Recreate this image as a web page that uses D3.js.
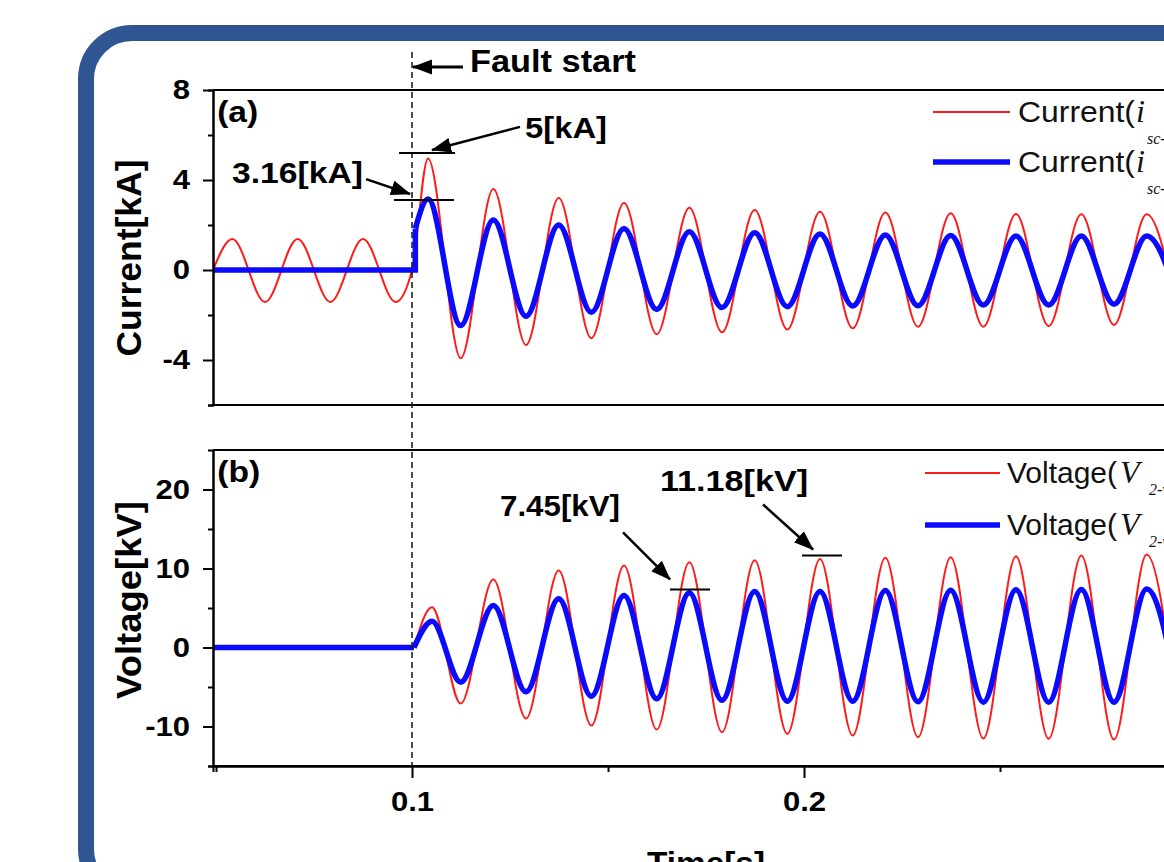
<!DOCTYPE html>
<html><head><meta charset="utf-8">
<script src="https://cdn.jsdelivr.net/npm/d3@7"></script>
<style>html,body{margin:0;padding:0;background:#fff;overflow:hidden}</style>
</head><body><svg id="c" width="1164" height="862"></svg>
<script>
// ---------------- DATA ----------------
const faultTime = 0.1;
// pre-fault extrema of the red current (no SFCL)
const preTimes = [0.04923, 0.05417, 0.0625, 0.07083, 0.07917, 0.0875, 0.09583, 0.1];
const iRedPre  = [0, 1.38, -1.42, 1.38, -1.42, 1.38, -1.42, 0];
// blue current: zero before the fault, then a step
const iBlueStepTime = 0.10085;
const iBlueStepValue = 1.85;
// post-fault extrema times (60 Hz)
const postTimes = [0.10408, 0.11242, 0.12075, 0.12908, 0.13742, 0.14575, 0.15408, 0.16242, 0.17075, 0.17908, 0.18742, 0.19575, 0.20408, 0.21242, 0.22075, 0.22908, 0.23742, 0.24575, 0.25408, 0.26242, 0.27075, 0.27908, 0.28742, 0.29575];
const iRedPost  = [4.96, -3.92, 3.6, -3.33, 3.2, -3.03, 2.98, -2.85, 2.77, -2.77, 2.67, -2.64, 2.59, -2.59, 2.55, -2.52, 2.52, -2.52, 2.49, -2.49, 2.48, -2.44, 2.48, -2.44];
const iBluePost = [3.16, -2.47, 2.22, -2.05, 2.0, -1.88, 1.85, -1.75, 1.70, -1.67, 1.66, -1.63, 1.60, -1.60, 1.56, -1.59, 1.53, -1.56, 1.51, -1.56, 1.51, -1.52, 1.51, -1.52];
// voltage
const vStartTime = 0.1005;
const vTimes    = [0.1051, 0.11242, 0.12075, 0.12908, 0.13742, 0.14575, 0.15408, 0.16242, 0.17075, 0.17908, 0.18742, 0.19575, 0.20408, 0.21242, 0.22075, 0.22908, 0.23742, 0.24575, 0.25408, 0.26242, 0.27075, 0.27908, 0.28742, 0.29575];
const vRedPost  = [5.1, -7.09, 8.6, -8.99, 9.75, -9.87, 10.38, -10.38, 10.8, -10.72, 11.05, -10.93, 11.2, -11.14, 11.35, -11.35, 11.43, -11.52, 11.56, -11.56, 11.65, -11.65, 11.77, -11.7];
const vBluePost = [3.33, -4.39, 5.32, -5.61, 6.16, -6.16, 6.58, -6.5, 6.92, -6.67, 7.1, -6.8, 7.1, -6.8, 7.2, -6.87, 7.25, -6.92, 7.3, -6.92, 7.34, -6.92, 7.4, -6.95];
// ticks
const xTicksMajor = [0.1, 0.2];
const xTickLabels = ["0.1", "0.2"];
const xTicksMinor = [0.05, 0.15, 0.25];
const iTicksMajor = [-4, 0, 4, 8];
const iTickLabels = ["-4", "0", "4", "8"];
const iTicksMinor = [-6, -2, 2, 6];
const vTicksMajor = [-10, 0, 10, 20];
const vTickLabels = ["-10", "0", "10", "20"];
const vTicksMinor = [-15, -5, 5, 15];
// annotations
const annLabels = ["5[kA]", "3.16[kA]", "7.45[kV]", "11.18[kV]"];
const annLevels = [5.2, 3.11, 7.34, 11.65];
const annPanels = ["a", "a", "b", "b"];
const legendCurrent = [["Current(", "i", "sc-without SFCL)"], ["Current(", "i", "sc-with SFCL)"]];
const legendVoltage = [["Voltage(", "V", "2-without SFCL)"], ["Voltage(", "V", "2-with SFCL)"]];

// ---------------- LAYOUT ----------------
const W = 1164, H = 862;
const L = 213, R = 1196;
const topA = 90, botA = 405, topB = 450, botB = 766;
const RED = "#ff1a1a", BLUE = "#0a0aff";
const SANS = "'Liberation Sans', Arial, sans-serif";
const SERIF = "'Liberation Serif', 'Times New Roman', serif";

const svg = d3.select("#c");
svg.append("rect").attr("width", W).attr("height", H).attr("fill", "#fff");

// rounded border
svg.append("rect").attr("x", 86).attr("y", 33).attr("width", 1200).attr("height", 862)
  .attr("rx", 46).attr("fill", "none").attr("stroke", "#2f5592").attr("stroke-width", 16);

const x = d3.scaleLinear().domain([0.04923, 0.3]).range([L, R]);
const yI = d3.scaleLinear().domain([-6, 8]).range([botA, topA]);
const yV = d3.scaleLinear().domain([-15, 25]).range([botB, topB]);

const defs = svg.append("defs");
defs.append("clipPath").attr("id", "clipA").append("rect")
  .attr("x", L).attr("y", topA).attr("width", R - L).attr("height", botA - topA);
defs.append("clipPath").attr("id", "clipB").append("rect")
  .attr("x", L).attr("y", topB).attr("width", R - L).attr("height", botB - topB);
defs.append("marker").attr("id", "arr").attr("markerUnits", "userSpaceOnUse")
  .attr("viewBox", "0 -9 20 18").attr("refX", 19).attr("refY", 0)
  .attr("markerWidth", 20).attr("markerHeight", 18).attr("orient", "auto")
  .append("path").attr("d", "M0,-7.5L20,0L0,7.5Z").attr("fill", "#000");

function pts(ts, vs) { return ts.map((t, i) => [t, vs[i]]); }

// ---- panel (a) curves
const lineA = d3.line().x(d => x(d[0])).y(d => yI(d[1])).curve(d3.curveMonotoneX);
const lineALin = d3.line().x(d => x(d[0])).y(d => yI(d[1]));
const gA = svg.append("g").attr("clip-path", "url(#clipA)");
gA.append("path").attr("d", lineA(pts(preTimes, iRedPre).concat(pts(postTimes, iRedPost))))
  .attr("fill", "none").attr("stroke", RED).attr("stroke-width", 2);
gA.append("path").attr("d", lineALin([[0.04923, 0], [iBlueStepTime, 0], [iBlueStepTime, iBlueStepValue]]))
  .attr("fill", "none").attr("stroke", BLUE).attr("stroke-width", 5.5);
gA.append("path").attr("d", lineA([[iBlueStepTime, iBlueStepValue]].concat(pts(postTimes, iBluePost))))
  .attr("fill", "none").attr("stroke", BLUE).attr("stroke-width", 5.5);

// ---- panel (b) curves
const lineB = d3.line().x(d => x(d[0])).y(d => yV(d[1])).curve(d3.curveMonotoneX);
const lineBLin = d3.line().x(d => x(d[0])).y(d => yV(d[1]));
const gB = svg.append("g").attr("clip-path", "url(#clipB)");
gB.append("path").attr("d", lineB([[vStartTime, 0]].concat(pts(vTimes, vRedPost))))
  .attr("fill", "none").attr("stroke", RED).attr("stroke-width", 2);
gB.append("path").attr("d", lineBLin([[0.04923, 0], [vStartTime, 0]]))
  .attr("fill", "none").attr("stroke", RED).attr("stroke-width", 2);
gB.append("path").attr("d", lineBLin([[0.04923, 0], [vStartTime, 0]]))
  .attr("fill", "none").attr("stroke", BLUE).attr("stroke-width", 5.5);
gB.append("path").attr("d", lineB([[vStartTime, 0]].concat(pts(vTimes, vBluePost))))
  .attr("fill", "none").attr("stroke", BLUE).attr("stroke-width", 5.5);

// ---- frames
function hline(y, x0, x1) {
  svg.append("line").attr("x1", x0).attr("x2", x1).attr("y1", y).attr("y2", y)
    .attr("stroke", "#000").attr("stroke-width", 2);
}
hline(topA, L, W + 5);
hline(botA, L, W + 5);
hline(topB, L, W + 5);

function styleAxis(g) {
  g.selectAll("path.domain").attr("stroke", "#000").attr("stroke-width", 2);
  g.selectAll(".tick line").attr("stroke", "#000").attr("stroke-width", 2);
  g.selectAll(".tick text").attr("font-family", SANS).attr("font-weight", "bold")
    .attr("font-size", 27).attr("fill", "#000")
    .each(function () {
      const w = this.getComputedTextLength();
      d3.select(this).attr("textLength", w * 1.15).attr("lengthAdjust", "spacingAndGlyphs");
    });
}

// y axis (a)
const axA = svg.append("g").attr("transform", `translate(${L},0)`)
  .call(d3.axisLeft(yI).tickValues(iTicksMajor).tickSizeInner(10).tickSizeOuter(0).tickPadding(13)
    .tickFormat((d, i) => iTickLabels[i]));
styleAxis(axA);
const axAm = svg.append("g").attr("transform", `translate(${L},0)`)
  .call(d3.axisLeft(yI).tickValues(iTicksMinor).tickSize(5).tickFormat(""));
styleAxis(axAm);
// y axis (b)
const axB = svg.append("g").attr("transform", `translate(${L},0)`)
  .call(d3.axisLeft(yV).tickValues(vTicksMajor).tickSizeInner(10).tickSizeOuter(0).tickPadding(13)
    .tickFormat((d, i) => vTickLabels[i]));
styleAxis(axB);
const axBm = svg.append("g").attr("transform", `translate(${L},0)`)
  .call(d3.axisLeft(yV).tickValues(vTicksMinor).tickSize(5).tickFormat(""));
styleAxis(axBm);
// x axis
const axX = svg.append("g").attr("transform", `translate(0,${botB})`)
  .call(d3.axisBottom(x).tickValues(xTicksMajor).tickSizeInner(12).tickSizeOuter(0).tickPadding(14)
    .tickFormat((d, i) => xTickLabels[i]));
styleAxis(axX);
const axXm = svg.append("g").attr("transform", `translate(0,${botB})`)
  .call(d3.axisBottom(x).tickValues(xTicksMinor).tickSize(6).tickFormat(""));
styleAxis(axXm);
svg.append("line").attr("x1", L).attr("x2", W + 5).attr("y1", botB).attr("y2", botB)
  .attr("stroke", "#000").attr("stroke-width", 2);

// ---- axis titles
function title(txt, tx, ty, rot, len, size) {
  svg.append("text").attr("transform", `translate(${tx},${ty}) rotate(${rot})`)
    .attr("text-anchor", "middle").attr("font-family", SANS).attr("font-weight", "bold")
    .attr("font-size", size).attr("fill", "#000")
    .attr("textLength", len).attr("lengthAdjust", "spacingAndGlyphs").text(txt);
}
title("Current[kA]", 141, 258, -90, 197, 35);
title("Voltage[kV]", 141, 600, -90, 198, 35);
title("Time[s]", 706, 874, 0, 118, 32);

// ---- fault line and label
svg.append("line").attr("x1", x(faultTime)).attr("x2", x(faultTime)).attr("y1", 52).attr("y2", botB)
  .attr("stroke", "#222").attr("stroke-width", 1.6).attr("stroke-dasharray", "6,4");
svg.append("line").attr("x1", x(0.113)).attr("x2", x(faultTime) + 1).attr("y1", yI(9.02)).attr("y2", yI(9.02))
  .attr("stroke", "#000").attr("stroke-width", 3).attr("marker-end", "url(#arr)");
function label(txt, t, yPix, size, len) {
  return svg.append("text").attr("x", x(t)).attr("y", yPix).attr("font-family", SANS)
    .attr("font-weight", "bold").attr("font-size", size).attr("fill", "#000")
    .attr("textLength", len).attr("lengthAdjust", "spacingAndGlyphs").text(txt);
}
label("Fault start", 0.1148, yI(8.8), 31, 166);
label("(a)", 0.0503, yI(6.58), 30, 41);
label("(b)", 0.0503, yV(21.0), 30, 43);

// ---- peak annotations
const annBarT = [[0.09668, 0.11097], [0.09541, 0.11071], [0.16582, 0.17602], [0.19949, 0.20969]];
const annFrom = [[0.12755, 6.36], [0.08827, 4.04], [0.15383, 14.56], [0.18954, 18.1]];
const annTo = [[0.1051, 5.33], [0.09949, 3.38], [0.16582, 8.61], [0.2023, 12.41]];
const annText = [[0.12883, 5.87], [0.05408, 3.87], [0.12245, 16.7], [0.16327, 19.87]];
const annWidth = [82, 131, 120, 148];
annLabels.forEach((lab, i) => {
  const y = annPanels[i] === "a" ? yI : yV;
  svg.append("line").attr("x1", x(annBarT[i][0])).attr("x2", x(annBarT[i][1]))
    .attr("y1", y(annLevels[i])).attr("y2", y(annLevels[i])).attr("stroke", "#000").attr("stroke-width", 2);
  svg.append("line").attr("x1", x(annFrom[i][0])).attr("y1", y(annFrom[i][1]))
    .attr("x2", x(annTo[i][0])).attr("y2", y(annTo[i][1]))
    .attr("stroke", "#000").attr("stroke-width", 2.5).attr("marker-end", "url(#arr)");
  label(lab, annText[i][0], y(annText[i][1]), 29, annWidth[i]);
});

// ---- legends
function legend(items, rows, lineX0, lineX1, textX, mainLen, symX, subDx, subDy, mainSize) {
  items.forEach((it, i) => {
    const ly = rows[i];
    svg.append("line").attr("x1", lineX0).attr("x2", lineX1).attr("y1", ly).attr("y2", ly)
      .attr("stroke", i === 0 ? RED : BLUE).attr("stroke-width", i === 0 ? 2 : 5.5);
    svg.append("text").attr("x", textX).attr("y", ly + 10).attr("font-family", SANS)
      .attr("font-size", mainSize).attr("fill", "#111")
      .attr("textLength", mainLen).attr("lengthAdjust", "spacingAndGlyphs").text(it[0]);
    svg.append("text").attr("x", symX).attr("y", ly + 10).attr("font-family", SERIF)
      .attr("font-style", "italic").attr("font-size", 32).attr("fill", "#111").text(it[1]);
    svg.append("text").attr("x", symX + subDx).attr("y", ly + 10 + subDy).attr("font-family", SERIF)
      .attr("font-style", "italic").attr("font-size", 16).attr("fill", "#111").text(it[2]);
  });
}
legend(legendCurrent, [112, 162], 933, 1010, 1018, 117, 1136, 11, 22, 30);
legend(legendVoltage, [473, 525], 925, 1000, 1007, 110, 1120, 29, 12, 30);
</script></body></html>
